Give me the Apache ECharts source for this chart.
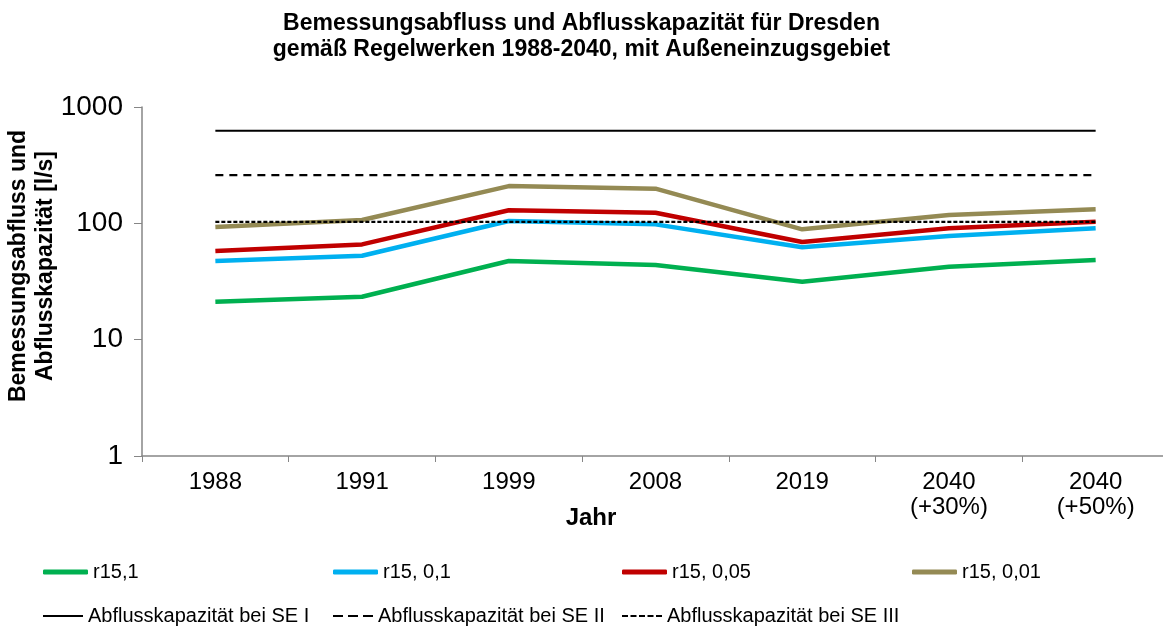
<!DOCTYPE html>
<html>
<head>
<meta charset="utf-8">
<script src="https://cdn.jsdelivr.net/npm/echarts@6/dist/echarts.min.js"></script>
<style>
  html, body { margin: 0; padding: 0; background: #fff; }
  #chart { width: 1163px; height: 629px; }
</style>
</head>
<body>
<div id="chart"></div>
<script>
// Jahre / Regelwerke
const categories = ['1988', '1991', '1999', '2008', '2019', '2040\n(+30%)', '2040\n(+50%)'];

// Bemessungsabfluss [l/s] je Regenspende
const r15_1    = [21.2, 23.4, 47.4, 43.8, 31.5, 42.4, 48.3];
const r15_01   = [47.4, 52.6, 104.7, 98.0, 62.2, 77.8, 90.6];
const r15_005  = [57.8, 65.9, 129.4, 123.5, 69.0, 90.6, 103.0];
const r15_001  = [93.0, 106.7, 209.0, 198.5, 88.8, 117.8, 131.9];

// Abflusskapazität [l/s] je Stauhöhe
const seI   = [625, 625, 625, 625, 625, 625, 625];
const seII  = [260, 260, 260, 260, 260, 260, 260];
const seIII = [103, 103, 103, 103, 103, 103, 103];

const yTicks = [1, 10, 100, 1000];

const FONT = '"Liberation Sans", Arial, sans-serif';

const names = {
  g: 'r15,1', b: 'r15, 0,1', r: 'r15, 0,05', o: 'r15, 0,01',
  s1: 'Abflusskapazität bei SE I', s2: 'Abflusskapazität bei SE II', s3: 'Abflusskapazität bei SE III'
};

function line(name, data, color, width, type) {
  return {
    name, type: 'line', data, symbol: 'none', smooth: false,
    lineStyle: { color, width, type: type || 'solid', cap: 'butt' },
    itemStyle: { color },
    emphasis: { disabled: true }
  };
}

// Legend icons: thick bars for the flow series, thin patterns for capacities
const ICON_SOLID  = 'path://M0,0h40v2h-40z';
const ICON_DASH   = 'path://M0,0h10v2h-10z M15,0h10v2h-10z M30,0h10v2h-10z';
const ICON_DOT    = 'path://M0,0h6v2h-6z M8.5,0h6v2h-6z M17,0h6v2h-6z M25.5,0h6v2h-6z M34,0h6v2h-6z';

const legendCols = [38, 328, 617, 907];
function legendItem(name, left, top, icon, w, h, color) {
  return {
    data: [{ name, icon, itemStyle: { color } }],
    left, top, selectedMode: false,
    itemWidth: w, itemHeight: h, itemGap: 0,
    textStyle: { fontFamily: FONT, fontSize: 20, color: '#000' }
  };
}

const chart = echarts.init(document.getElementById('chart'));
chart.setOption({
  animation: false,
  title: {
    text: 'Bemessungsabfluss und Abflusskapazität für Dresden\ngemäß Regelwerken 1988-2040, mit Außeneinzugsgebiet',
    left: 'center', top: 6,
    textStyle: { fontFamily: FONT, fontSize: 23, fontWeight: 'bold', color: '#000', lineHeight: 26 }
  },
  legend: [
    legendItem(names.g, legendCols[0], 557, 'roundRect', 45, 5, '#00B050'),
    legendItem(names.b, legendCols[1], 557, 'roundRect', 45, 5, '#00B0F0'),
    legendItem(names.r, legendCols[2], 557, 'roundRect', 45, 5, '#C00000'),
    legendItem(names.o, legendCols[3], 557, 'roundRect', 45, 5, '#948A54'),
    legendItem(names.s1, legendCols[0], 601, ICON_SOLID, 40, 2.4, '#000'),
    legendItem(names.s2, legendCols[1], 601, ICON_DASH, 40, 2.4, '#000'),
    legendItem(names.s3, legendCols[2], 601, ICON_DOT, 40, 2.4, '#000')
  ],
  grid: { left: 142, top: 107, width: 1027, height: 349, outerBoundsMode: 'none', containLabel: false },
  xAxis: {
    type: 'category', data: categories, boundaryGap: true,
    axisLine: { lineStyle: { color: '#868686', width: 1.5 } },
    axisTick: { show: true, alignWithLabel: false, length: 6, lineStyle: { color: '#868686' } },
    axisLabel: { fontFamily: FONT, fontSize: 24, color: '#000', margin: 14, lineHeight: 25, interval: 0 },
    splitLine: { show: false }
  },
  yAxis: {
    type: 'log', logBase: 10, min: yTicks[0], max: yTicks[yTicks.length - 1],
    axisLine: { show: true, lineStyle: { color: '#868686', width: 1.5 } },
    axisTick: { show: true, length: 8, lineStyle: { color: '#868686' } },
    axisLabel: { fontFamily: FONT, fontSize: 28, color: '#000', margin: 19, formatter: v => String(v) },
    splitLine: { show: false }
  },
  graphic: [
    {
      type: 'text', x: 32, y: 266, rotation: Math.PI / 2,
      style: {
        text: 'Bemessungsabfluss und\nAbflusskapazität [l/s]',
        font: 'bold 23px ' + FONT, fill: '#000',
        align: 'center', verticalAlign: 'middle', lineHeight: 27
      }
    },
    {
      type: 'text', x: 591, y: 518,
      style: {
        text: 'Jahr', font: 'bold 24px ' + FONT, fill: '#000',
        align: 'center', verticalAlign: 'middle'
      }
    }
  ],
  series: [
    line(names.g, r15_1, '#00B050', 4.5),
    line(names.b, r15_01, '#00B0F0', 4.5),
    line(names.r, r15_005, '#C00000', 4.5),
    line(names.o, r15_001, '#948A54', 4.5),
    line(names.s1, seI, '#000000', 2.2),
    line(names.s2, seII, '#000000', 2.2, [8, 6]),
    line(names.s3, seIII, '#000000', 2.2, [4, 2])
  ]
});
</script>
</body>
</html>
